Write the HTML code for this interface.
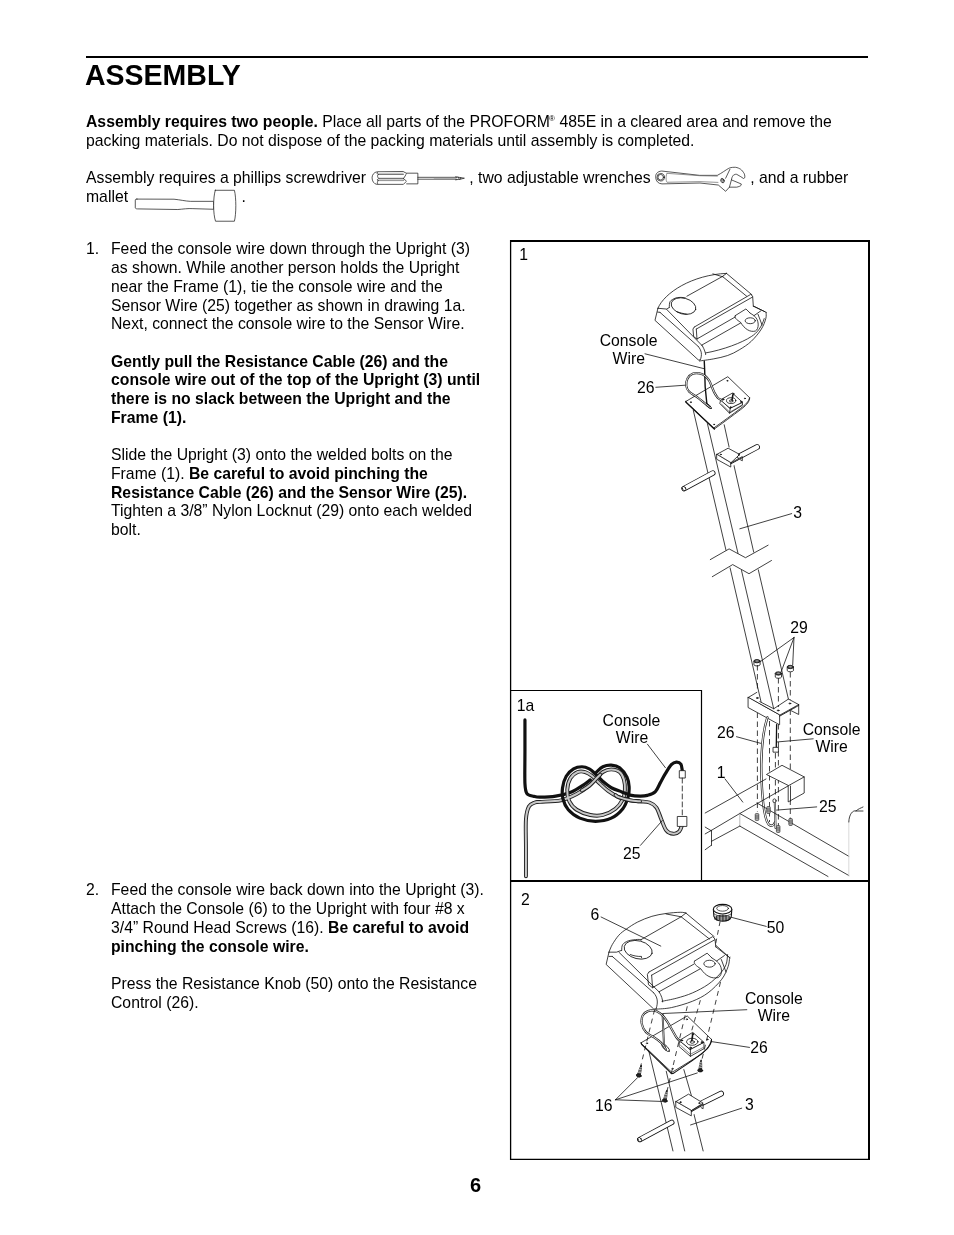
<!DOCTYPE html>
<html><head><meta charset="utf-8">
<style>
html,body{margin:0;padding:0;background:#fff;}
body{width:954px;height:1235px;position:relative;overflow:hidden;filter:grayscale(1);font-family:"Liberation Sans",sans-serif;color:#000;}
.t{position:absolute;font-size:15.75px;line-height:18.7px;white-space:nowrap;}
.b{font-weight:bold;}
#rule{position:absolute;left:86px;top:56px;width:782px;height:2px;background:#000;}
#title{position:absolute;left:85px;top:58px;font-size:28.5px;font-weight:bold;line-height:34px;white-space:nowrap;transform:scaleY(1.05);transform-origin:0 27px;}
sup.r{font-size:8px;vertical-align:top;position:relative;top:-3px;margin-left:-0.8px;}
svg{position:absolute;left:0;top:0;}
</style></head><body>
<div id="rule"></div>
<div id="title">ASSEMBLY</div>

<div class="t" style="left:86px;top:113.4px"><b>Assembly requires two people.</b> Place all parts of the PROFORM<sup class="r">®</sup> 485E in a cleared area and remove the<br>packing materials. Do not dispose of the packing materials until assembly is completed.</div>

<div class="t" style="left:86px;top:168.9px">Assembly requires a phillips screwdriver</div>
<div class="t" style="left:469.3px;top:168.9px">, two adjustable wrenches</div>
<div class="t" style="left:750.3px;top:168.9px">, and a rubber</div>
<div class="t" style="left:86px;top:187.6px">mallet</div>
<div class="t" style="left:241.5px;top:187.6px">.</div>

<div class="t" style="left:86px;top:240.4px">1.</div>
<div class="t" style="left:111px;top:240.4px">Feed the console wire down through the Upright (3)<br>as shown. While another person holds the Upright<br>near the Frame (1), tie the console wire and the<br>Sensor Wire (25) together as shown in drawing 1a.<br>Next, connect the console wire to the Sensor Wire.<br>&nbsp;<br><b>Gently pull the Resistance Cable (26) and the<br>console wire out of the top of the Upright (3) until<br>there is no slack between the Upright and the<br>Frame (1).</b><br>&nbsp;<br>Slide the Upright (3) onto the welded bolts on the<br>Frame (1). <b>Be careful to avoid pinching the<br>Resistance Cable (26) and the Sensor Wire (25).</b><br>Tighten a 3/8” Nylon Locknut (29) onto each welded<br>bolt.</div>

<div class="t" style="left:86px;top:881.4px">2.</div>
<div class="t" style="left:111px;top:881.4px">Feed the console wire back down into the Upright (3).<br>Attach the Console (6) to the Upright with four #8 x<br>3/4” Round Head Screws (16). <b>Be careful to avoid<br>pinching the console wire.</b><br>&nbsp;<br>Press the Resistance Knob (50) onto the Resistance<br>Control (26).</div>

<div class="t b" style="left:470px;top:1174px;font-size:20px;line-height:22px">6</div>

<svg width="954" height="1235" viewBox="0 0 954 1235">
<g fill="none" stroke="#000">
<path d="M510.6 240 V1160" stroke-width="1.3"/>
<path d="M869 240 V1160" stroke-width="2"/>
<path d="M510 241 H870" stroke-width="2"/>
<path d="M510 1159.4 H870" stroke-width="1.3"/>
<path d="M510 881 H870" stroke-width="2"/>
<path d="M510 690.5 H701.5 V881" stroke-width="1.2"/>
</g>
<g transform="translate(648,266) scale(0.134174)" fill="none" stroke="#111" stroke-width="5.962" stroke-linecap="round" stroke-linejoin="round"><path d="M74 315 C120 200 330 65 585 55" /><path d="M585 55 L775 215 M790 300 L880 345" /><path d="M880.0 345.0 C879.7 352.8 883.8 371.2 878.0 392.0 C872.2 412.8 863.0 441.8 845.0 470.0 C827.0 498.2 797.5 535.2 770.0 561.0 C742.5 586.8 709.3 607.3 680.0 625.0 C650.7 642.7 625.7 655.8 594.0 667.0 C562.3 678.2 525.2 685.2 490.0 692.0 C454.8 698.8 400.8 705.3 383.0 708.0" /><path d="M866 392 C848 455 812 500 770 526 C700 572 560 625 430 648" /><path d="M74 315 L52 405 L375 700 L385 700" /><path d="M74 315 L140 321 L159 309 M71 343 L90 346 M89.9 346.1 L375 600 M139.9 324.3 L405 595 M375 600 C400 630 405 660 390 700 M405 595 C420 620 430 650 430 660" /><path d="M555 78 L290 225 M585 55 L555 78 L735 225" /><ellipse cx="265" cy="299" rx="94" ry="59" transform="rotate(15 265 299)" /><path d="M158.7 308.7 C159.7 301.4 157.6 276.4 164.9 264.9 C172.2 253.4 189.9 245.1 202.4 239.9 C214.9 234.8 227.5 234.5 240.0 234.0 C252.5 233.5 271.2 236.3 277.4 236.8" /><path d="M214.9 339.9 C240 350 265 356 289.9 358.6" /><path d="M483.6 58.7 L558.6 80.5" /><path d="M345 455 L765 212 L780 225 L785 300 M360 470 L778 232 M345 455 L335 470 L340 525 L365 545 M360 470 L365 545 L372 540 M372 540 L650 380 M400 590 L690 425" /><path d="M650 370 L730 320 L760 350 M650 370 C640 385 660 400 690 420 C720 470 760 495 800 485 C830 470 830 400 790 370 L760 350" /><ellipse cx="762" cy="408" rx="38" ry="22" /><path d="M785 300 L870 340 M790 370 L840 335 M820 360 L850 440" /></g>
<g transform="translate(660,355) scale(0.125786)" fill="none" stroke="#111" stroke-width="6.360" stroke-linecap="round" stroke-linejoin="round"><path d="M205.7 369.2 L539 172.6 L712.3 339.3 C705 370 680 395 640 425 C580 470 500 530 429 579.3 Z" fill="#fff"/><path d="M712.3 339.3 L712.3 350 C705 380 680 405 640 435 C580 480 500 540 432 588 L429 579.3" /><path d="M205.7 369.2 L207 376 L432 588" stroke-width="11.130"/><ellipse cx="245" cy="375" rx="4" ry="3" fill="#333"/><ellipse cx="535" cy="205" rx="4" ry="3" fill="#333"/><ellipse cx="675" cy="345" rx="4" ry="3" fill="#333"/><ellipse cx="430" cy="552" rx="4" ry="3" fill="#333"/><path d="M482.3 355.9 L475.7 385.9 L552.3 462.6 L655.7 399.3 L655.7 375.9 L559 422.6 Z" fill="#fff"/><path d="M482.3 355.9 L575.7 302.6 L655.7 375.9 L559 422.6 Z M559 422.6 L552.3 462.6" fill="#fff"/><path d="M490 392 L555 455 M560 452 L650 398" stroke-width="3.975"/><ellipse cx="565.7" cy="362.6" rx="37" ry="23" /><ellipse cx="566" cy="365" rx="14" ry="9" /><path d="M579 319 L572.3 359.2" stroke-width="12.720"/><ellipse cx="502.3" cy="352.6" rx="6" ry="5" fill="#333"/><ellipse cx="582.3" cy="309.2" rx="6" ry="5" fill="#333"/><ellipse cx="645.7" cy="372.6" rx="6" ry="5" fill="#333"/><ellipse cx="562.3" cy="416" rx="6" ry="5" fill="#333"/><ellipse cx="385.7" cy="405.9" rx="30" ry="10" transform="rotate(42 385.7 405.9)" fill="#fff"/><path d="M352 50 L355 119 L359 252.6 L372.3 385.9 L382.3 405.9" stroke-width="11.130"/><path d="M392.3 412.6 C386.8 408.2 375.7 399.2 359.0 385.9 C342.3 372.6 313.4 348.2 292.3 332.6 C271.2 317.1 246.2 307.1 232.3 292.6 C218.4 278.2 211.2 263.7 209.0 245.9 C206.8 228.1 210.7 202.0 219.0 185.9 C227.3 169.8 243.4 155.9 259.0 149.2 C274.6 142.6 295.6 143.1 312.3 145.9 C329.0 148.7 345.7 155.9 359.0 165.9 C372.3 175.9 383.4 191.5 392.3 205.9 C401.2 220.3 405.6 237.0 412.3 252.6 C419.0 268.2 424.5 284.8 432.3 299.2 C440.1 313.7 449.6 329.2 459.0 339.2 C468.4 349.2 484.0 355.9 489.0 359.2" stroke="#222" stroke-width="17.490"/><path d="M392.3 412.6 C386.8 408.2 375.7 399.2 359.0 385.9 C342.3 372.6 313.4 348.2 292.3 332.6 C271.2 317.1 246.2 307.1 232.3 292.6 C218.4 278.2 211.2 263.7 209.0 245.9 C206.8 228.1 210.7 202.0 219.0 185.9 C227.3 169.8 243.4 155.9 259.0 149.2 C274.6 142.6 295.6 143.1 312.3 145.9 C329.0 148.7 345.7 155.9 359.0 165.9 C372.3 175.9 383.4 191.5 392.3 205.9 C401.2 220.3 405.6 237.0 412.3 252.6 C419.0 268.2 424.5 284.8 432.3 299.2 C440.1 313.7 449.6 329.2 459.0 339.2 C468.4 349.2 484.0 355.9 489.0 359.2" stroke="#fff" stroke-width="7.155"/></g>
<g fill="none" stroke="#111" stroke-width="0.8" stroke-linecap="round"><path d="M693.3 410.3 L726 550.2" /><path d="M707.4 423.6 L738 553.3" /><path d="M724.2 424.8 L729.1 447 M733.5 463.4 L753.7 552.1" /><path d="M710.3 559.6 L729.1 548.9 L745.5 557.7 L768.1 545.2" /><path d="M712.3 576.7 L732.7 564.6 L749 573.7 L771.5 560.5" /><path d="M730.1 567.9 L761 701.6" /><path d="M741.5 570.5 L773.7 708.8" /><path d="M758.3 569.8 L788.4 699.1" /><path d="M645 353.8 L704.5 368.8" /><path d="M655.8 387.3 L685.2 385.2" /><path d="M739.8 528.8 L791.7 513.6" /><path d="M794 637.5 L760.9 661.2 M794 637.5 L781 672.2 M794 637.5 L792.7 665.1" /><path d="M736.5 736.7 L760.6 743.3" /><path d="M813.2 738.8 L776.6 742" /><path d="M725 778.9 L742.8 802.1" /><path d="M816.7 806.9 L776.6 810.1" /><path d="M601.1 917 L660.8 946.1" /><path d="M730.1 917 L766.2 926.4" /><path d="M746.8 1009.7 L663 1013.5" /><path d="M749.5 1047.4 L703 1040.3" /></g>
<g transform="translate(670,420) scale(0.125786)" fill="none" stroke="#111" stroke-width="6.360" stroke-linecap="round" stroke-linejoin="round"><path d="M555 287 L692 215" stroke="#111" stroke-width="46.110" stroke-linecap="round"/><path d="M555 287 L692 215" stroke="#fff" stroke-width="33.390" stroke-linecap="round"/><path d="M483 341 L575 291 L575 324 L483 374 Z" fill="#fff" stroke="none"/><path d="M371 274 L462 224 L554 274 L483 341 Z" fill="#fff"/><path d="M371 274 L371 312 L483 374 L483 341 Z" fill="#fff"/><path d="M483 341 L575 291 L575 324 L560 316 M483 349 L575 299" /><path d="M490 346 L496 340 M505 338 L511 332 M520 330 L526 324 M535 322 L541 316 M550 314 L556 308 M563 307 L569 301" stroke-width="4.770"/><ellipse cx="404" cy="274" rx="4" ry="3" fill="#333"/><ellipse cx="546" cy="278" rx="4" ry="3" fill="#333"/><path d="M112 545 L340 422" stroke="#111" stroke-width="43.725" stroke-linecap="round"/><path d="M112 545 L340 422" stroke="#fff" stroke-width="31.005" stroke-linecap="round"/><ellipse cx="112" cy="545" rx="12.24" ry="18.68" transform="rotate(-28.3 112 545)" fill="#fff" stroke="#111" stroke-width="6.360"/></g>
<g transform="translate(700,540) scale(0.129589)" fill="none" stroke="#111" stroke-width="6.173" stroke-linecap="round" stroke-linejoin="round"><path d="M416 935 L416 963 C420 975 460 975 464 963 L464 935" fill="#fff"/><ellipse cx="440" cy="935" rx="24" ry="13" fill="#444"/><ellipse cx="440" cy="934" rx="13" ry="6" fill="#999" stroke="none"/><path d="M581 1030 L581 1058 C585 1070 625 1070 629 1058 L629 1030" fill="#fff"/><ellipse cx="605" cy="1030" rx="24" ry="13" fill="#444"/><ellipse cx="605" cy="1029" rx="13" ry="6" fill="#999" stroke="none"/><path d="M673 980 L673 1008 C677 1020 717 1020 721 1008 L721 980" fill="#fff"/><ellipse cx="697" cy="980" rx="24" ry="13" fill="#444"/><ellipse cx="697" cy="979" rx="13" ry="6" fill="#999" stroke="none"/></g>
<g fill="none" stroke="#111" stroke-width="0.8" stroke-dasharray="5.5 3.5"><path d="M757.4 665 V692 M757.4 712.5 V812" /><path d="M769.5 721 V822" /><path d="M778.4 678 V707 M778.4 724 V828" /><path d="M790.3 672 V699.5 M790.3 709.5 V821" /><path d="M775.4 753 V797" /></g>
<g transform="translate(700,680) scale(0.178196)" fill="none" stroke="#111" stroke-width="4.489" stroke-linecap="round" stroke-linejoin="round"><path d="M269.8 98.8 L319.2 69.2 M335.7 121.5 L413.9 161.4 L496.2 107 L553.9 137.9 M269.8 98.8 L446.8 197.6 L553.9 137.9" /><path d="M269.8 98.8 L269.8 154.4 L444 250 L446.8 251.1 L446.8 197.6 Z" fill="#fff"/><path d="M553.9 137.9 L553.9 193.5 L512.7 172.9 M446.8 203 L553.9 143" /><path d="M455 198 L460 193 M470 190 L475 185 M485 182 L490 177 M500 173 L505 168 M515 165 L520 160 M530 156 L535 151" stroke-width="3.367"/><ellipse cx="321.3" cy="100.9" rx="5" ry="3" fill="#777"/><ellipse cx="438.6" cy="170.9" rx="5" ry="3" fill="#777"/><ellipse cx="504.5" cy="131.7" rx="5" ry="3" fill="#777"/><path d="M378 210 C350 300 340 400 345 550 C350 680 360 780 385 810 C400 825 415 815 420 800" stroke="#222" stroke-width="13.468"/><path d="M378 210 C350 300 340 400 345 550 C350 680 360 780 385 810 C400 825 415 815 420 800" stroke="#fff" stroke-width="5.612"/><path d="M430 250 L428 378" stroke-width="7.295"/><path d="M412 378 L440 378 L440 405 L412 405 Z" fill="#fff"/><ellipse cx="418" cy="678" rx="9" ry="11" fill="#fff"/><path d="M420 690 L424 830" stroke="#222" stroke-width="11.224"/><path d="M420 690 L424 830" stroke="#fff" stroke-width="4.489"/></g>
<g fill="none" stroke="#111" stroke-width="0.8" stroke-linecap="round"><path d="M705.2 813 L766 779" /><path d="M711 830.6 L739.8 813.5 L788 786" /><path d="M711.5 841.3 L739.8 826.1" /><path d="M739.8 813.5 V826.1" stroke="#aaa"/><path d="M711.5 830.6 V845.5 M705.2 827.1 L711 830.6 M705.2 833.9 L711 830.6 M705.2 849.7 L711 845.5" /><path d="M739.8 813.5 L848.8 875.5" /><path d="M739.8 826.1 L828 876.5" /><path d="M757 803 L848.8 856.3" /><path d="M848.8 876 V822" stroke="#d0d0d0"/><path d="M848.8 822 C849 814 853 810 856 811 C858 809 861 808 863 807 M856 811 L863 811" /><path d="M766.8 774.3 L782 765.3 L804.2 776.9 L804.2 793 L788.2 801.9 L788.2 785.8 Z M788.2 785.8 L804.2 776.9 M790.5 786 V801" fill="#fff"/></g>
<rect x="755.2" y="813.5" width="3.6" height="7" rx="1" fill="#aaa" stroke="#222" stroke-width="0.6"/><path d="M755.2 816 H758.8 M755.2 818 H758.8" stroke="#222" stroke-width="0.5"/><rect x="766.7" y="806.5" width="3.6" height="7" rx="1" fill="#aaa" stroke="#222" stroke-width="0.6"/><path d="M766.7 809 H770.3 M766.7 811 H770.3" stroke="#222" stroke-width="0.5"/><rect x="776.4000000000001" y="825.5" width="3.6" height="7" rx="1" fill="#aaa" stroke="#222" stroke-width="0.6"/><path d="M776.4000000000001 828 H780.0 M776.4000000000001 830 H780.0" stroke="#222" stroke-width="0.5"/><rect x="788.8000000000001" y="818.5" width="3.6" height="7" rx="1" fill="#aaa" stroke="#222" stroke-width="0.6"/><path d="M788.8000000000001 821 H792.4 M788.8000000000001 823 H792.4" stroke="#222" stroke-width="0.5"/><g transform="translate(512,692) scale(0.199164)" fill="none" stroke="#111" stroke-width="4.017" stroke-linecap="round" stroke-linejoin="round"><path d="M65.0 140.0 C65.0 166.7 65.0 246.7 65.0 300.0 C65.0 353.3 63.3 425.0 65.0 460.0 C66.7 495.0 67.5 499.3 75.0 510.0 C82.5 520.7 99.1 521.0 110.0 524.0 C120.9 527.0 122.3 528.2 140.6 528.0 C158.8 527.8 193.2 527.2 219.5 522.8 C245.8 518.4 274.8 511.3 298.5 501.7 C322.2 492.1 345.8 475.0 361.6 464.9 C377.4 454.8 387.9 445.1 393.2 441.2" stroke-width="16.067" stroke="#111"/><path d="M70.0 925.0 C70.0 900.8 70.0 827.5 70.0 780.0 C70.0 732.5 67.5 674.2 70.0 640.0 C72.5 605.8 77.5 589.2 85.0 575.0 C92.5 560.8 105.7 558.9 115.0 555.0 C124.3 551.1 118.8 553.6 140.6 551.7 C162.4 549.8 215.2 550.4 245.9 543.8 C276.6 537.2 301.1 524.5 324.8 512.2 C348.5 499.9 371.3 483.2 388.0 470.1 C404.7 457.0 413.4 444.7 424.8 433.3 C436.2 421.9 444.1 409.1 456.4 401.7 C468.7 394.2 484.5 388.6 498.5 388.6 C512.5 388.6 530.1 393.4 540.6 401.7 C551.1 410.0 557.2 423.7 561.6 438.6 C566.0 453.5 567.8 474.5 566.9 491.2 C566.0 507.9 564.3 522.8 556.4 538.6 C548.5 554.4 536.2 572.8 519.5 585.9 C502.8 599.0 477.4 612.2 456.4 617.5 C435.3 622.8 415.1 621.9 393.2 617.5 C371.3 613.1 342.3 602.6 324.8 591.2 C307.3 579.8 295.9 565.8 288.0 549.1 C280.1 532.4 276.5 510.5 277.4 491.2 C278.3 471.9 284.4 448.2 293.2 433.3 C302.0 418.4 317.8 407.0 330.1 401.7 C342.4 396.4 354.6 398.2 366.9 401.7 C379.2 405.2 391.5 413.1 403.8 422.8 C416.1 432.5 427.5 447.3 440.6 459.6 C453.8 471.9 466.9 485.1 482.7 496.5 C498.5 507.9 516.9 520.1 535.3 528.0 C553.7 535.9 575.3 540.3 593.2 543.8 C611.1 547.3 626.6 547.2 642.7 549.1 C658.8 551.0 676.3 549.9 690.0 555.0 C703.7 560.1 715.0 565.8 725.0 580.0 C735.0 594.2 741.7 620.8 750.0 640.0 C758.3 659.2 765.0 683.0 775.0 695.0 C785.0 707.0 799.2 711.2 810.0 712.0 C820.8 712.8 832.5 707.8 840.0 700.0 C847.5 692.2 852.5 670.8 855.0 665.0" stroke="#222" stroke-width="19.582"/><path d="M70.0 925.0 C70.0 900.8 70.0 827.5 70.0 780.0 C70.0 732.5 67.5 674.2 70.0 640.0 C72.5 605.8 77.5 589.2 85.0 575.0 C92.5 560.8 105.7 558.9 115.0 555.0 C124.3 551.1 118.8 553.6 140.6 551.7 C162.4 549.8 215.2 550.4 245.9 543.8 C276.6 537.2 301.1 524.5 324.8 512.2 C348.5 499.9 371.3 483.2 388.0 470.1 C404.7 457.0 413.4 444.7 424.8 433.3 C436.2 421.9 444.1 409.1 456.4 401.7 C468.7 394.2 484.5 388.6 498.5 388.6 C512.5 388.6 530.1 393.4 540.6 401.7 C551.1 410.0 557.2 423.7 561.6 438.6 C566.0 453.5 567.8 474.5 566.9 491.2 C566.0 507.9 564.3 522.8 556.4 538.6 C548.5 554.4 536.2 572.8 519.5 585.9 C502.8 599.0 477.4 612.2 456.4 617.5 C435.3 622.8 415.1 621.9 393.2 617.5 C371.3 613.1 342.3 602.6 324.8 591.2 C307.3 579.8 295.9 565.8 288.0 549.1 C280.1 532.4 276.5 510.5 277.4 491.2 C278.3 471.9 284.4 448.2 293.2 433.3 C302.0 418.4 317.8 407.0 330.1 401.7 C342.4 396.4 354.6 398.2 366.9 401.7 C379.2 405.2 391.5 413.1 403.8 422.8 C416.1 432.5 427.5 447.3 440.6 459.6 C453.8 471.9 466.9 485.1 482.7 496.5 C498.5 507.9 516.9 520.1 535.3 528.0 C553.7 535.9 575.3 540.3 593.2 543.8 C611.1 547.3 626.6 547.2 642.7 549.1 C658.8 551.0 676.3 549.9 690.0 555.0 C703.7 560.1 715.0 565.8 725.0 580.0 C735.0 594.2 741.7 620.8 750.0 640.0 C758.3 659.2 765.0 683.0 775.0 695.0 C785.0 707.0 799.2 711.2 810.0 712.0 C820.8 712.8 832.5 707.8 840.0 700.0 C847.5 692.2 852.5 670.8 855.0 665.0" stroke="#c8c8c8" stroke-width="10.042"/><path d="M424.8 401.7 C430.1 397.3 444.1 381.1 456.4 375.4 C468.7 369.7 484.5 366.6 498.5 367.5 C512.5 368.4 527.5 370.6 540.6 380.7 C553.8 390.8 569.5 412.2 577.4 428.0 C585.3 443.8 587.1 458.7 588.0 475.4 C588.9 492.1 588.0 509.6 582.7 528.0 C577.4 546.4 570.4 568.4 556.4 585.9 C542.4 603.4 521.3 622.8 498.5 633.3 C475.7 643.8 445.8 649.1 419.5 649.1 C393.2 649.1 363.4 642.9 340.6 633.3 C317.8 623.6 296.7 607.0 282.7 591.2 C268.7 575.4 261.2 557.0 256.4 538.6 C251.6 520.2 251.2 500.0 253.8 480.7 C256.4 461.4 263.0 438.6 272.2 422.8 C281.4 407.0 295.9 393.8 309.0 385.9 C322.1 378.0 337.9 375.4 351.1 375.4 C364.3 375.4 376.6 379.8 388.0 385.9 C399.4 392.0 408.1 401.7 419.5 412.2 C430.9 422.7 443.2 437.7 456.4 449.1 C469.6 460.5 482.7 471.9 498.5 480.7 C514.3 489.5 535.3 495.6 551.1 501.7 C566.9 507.8 577.9 514.0 593.2 517.5 C608.5 521.0 628.2 522.5 642.7 522.8 C657.2 523.0 667.1 522.8 680.0 519.0 C692.9 515.2 709.2 510.7 720.0 500.0 C730.8 489.3 736.7 470.0 745.0 455.0 C753.3 440.0 760.8 425.0 770.0 410.0 C779.2 395.0 790.8 374.7 800.0 365.0 C809.2 355.3 817.0 352.5 825.0 352.0 C833.0 351.5 843.0 354.8 848.0 362.0 C853.0 369.2 853.8 389.5 855.0 395.0" stroke-width="16.067" stroke="#111"/><path d="M351.1 493.8 C357.2 489.9 375.7 480.2 388.0 470.1 C400.3 460.0 415.6 442.5 424.8 433.3 C434.0 424.1 440.1 418.0 443.2 414.9" stroke="#222" stroke-width="19.582"/><path d="M351.1 493.8 C357.2 489.9 375.7 480.2 388.0 470.1 C400.3 460.0 415.6 442.5 424.8 433.3 C434.0 424.1 440.1 418.0 443.2 414.9" stroke="#c8c8c8" stroke-width="10.042"/><path d="M519.5 517.5 C522.1 519.2 523.0 523.6 535.3 528.0 C547.6 532.4 575.3 540.3 593.2 543.8 C611.1 547.3 634.5 548.2 642.7 549.1" stroke="#222" stroke-width="19.582"/><path d="M519.5 517.5 C522.1 519.2 523.0 523.6 535.3 528.0 C547.6 532.4 575.3 540.3 593.2 543.8 C611.1 547.3 634.5 548.2 642.7 549.1" stroke="#c8c8c8" stroke-width="10.042"/><path d="M842 395 H870 V432 H842 Z" fill="#fff"/><path d="M855 432 V625" stroke-dasharray="25 15"/><path d="M832 625 H878 V675 H832 Z" fill="#fff"/><path d="M680 262 L770 380" /><path d="M645 770 L755 645" /></g>
<g transform="translate(590,895) scale(0.157233)" fill="none" stroke="#111" stroke-width="5.088" stroke-linecap="round" stroke-linejoin="round"><path d="M120.6 363.6 C124.1 355.6 131.1 333.6 141.6 315.6 C152.1 297.6 168.6 272.1 183.6 255.6 C198.6 239.1 211.6 230.6 231.6 216.6 C251.6 202.6 276.6 185.1 303.6 171.6 C330.6 158.1 363.6 144.6 393.6 135.6 C423.6 126.6 453.6 121.9 483.6 117.6 C513.6 113.3 552.5 110.5 573.6 110.0 C594.7 109.5 603.9 113.8 610.0 114.6" /><path d="M610 115 L790 265 M800 320 L890 400" /><path d="M890.0 395.0 C889.7 396.2 890.0 391.8 888.0 402.0 C886.0 412.2 886.3 433.7 878.0 456.0 C869.7 478.3 859.2 508.3 838.0 536.0 C816.8 563.7 782.2 598.7 751.0 622.0 C719.8 645.3 689.8 660.3 651.0 676.0 C612.2 691.7 556.5 707.7 518.0 716.0 C479.5 724.3 436.3 724.3 420.0 726.0" /><path d="M875.0 379.0 C873.3 389.7 873.3 422.3 865.0 443.0 C856.7 463.7 844.0 482.0 825.0 503.0 C806.0 524.0 780.0 549.0 751.0 569.0 C722.0 589.0 684.2 608.5 651.0 623.0 C617.8 637.5 584.2 647.2 552.0 656.0 C519.8 664.8 473.7 672.7 458.0 676.0" /><path d="M120.6 363.6 L102.6 441.6 L405 725 L420 725" /><path d="M120.6 363.6 L168.6 363.6 L201.6 351.6 M120.6 390.6 L141.6 390.6 M141.6 390.6 L405 622 M183.6 363.6 L440 617 M405 622 C430 650 435 680 420 725 M440 617 C455 640 462 665 462 680" /><path d="M579.6 138.6 L321.6 285.6 M610 114.6 L579.6 138.6 L760 280 M483.6 120.6 L579.6 138.6" /><ellipse cx="306.6" cy="348.6" rx="91" ry="57" transform="rotate(14 306.6 348.6)" /><path d="M201.6 351.6 C202.6 345.6 200.6 325.6 207.6 315.6 C214.6 305.6 227.6 297.1 243.6 291.6 C259.6 286.1 289.6 283.6 303.6 282.6 C317.6 281.6 323.6 285.1 327.6 285.6" /><path d="M255.6 378.6 C280 388 305 392 327.6 390.6 L328 400" /><path d="M375 490 L780 265 L795 280 L800 330 M392 510 L793 285 M375 490 L365 505 L372 570 L398 590 M392 510 L398 590 L405 585 M405 585 L660 440 M440 615 L700 470" /><path d="M665 420 L745 370 L775 400 M665 420 C655 435 675 450 705 470 C735 515 775 535 815 525 C845 510 845 450 805 420 L775 400" /><ellipse cx="760" cy="437" rx="36" ry="22" /><path d="M800 330 L880 392 M805 420 L855 385 M835 410 L865 490" /></g>
<g transform="translate(600,1000) scale(0.167715)" fill="none" stroke="#111" stroke-width="4.770" stroke-linecap="round" stroke-linejoin="round"><path d="M290 300 L435 900" /><path d="M395 425 L505 900" /><path d="M500 415 L545 570 M560 680 L615 900" /><path d="M598 620 L722 558" stroke="#111" stroke-width="34.583" stroke-linecap="round"/><path d="M598 620 L722 558" stroke="#fff" stroke-width="25.042" stroke-linecap="round"/><path d="M237 832 L428 730" stroke="#111" stroke-width="32.198" stroke-linecap="round"/><path d="M237 832 L428 730" stroke="#fff" stroke-width="22.658" stroke-linecap="round"/><ellipse cx="237" cy="832" rx="9.02" ry="13.71" transform="rotate(-28.1 237 832)" fill="#fff" stroke="#111" stroke-width="4.770"/><path d="M544.5 659.8 L614.8 620 L614.8 648 L544.5 690.8 Z" fill="#fff" stroke="none"/><path d="M451.7 606.4 L527.7 561.4 L614.8 614.8 L544.5 659.8 Z" fill="#fff"/><path d="M451.7 606.4 L451.7 640.1 L544.5 690.8 L544.5 659.8 Z" fill="#fff"/><path d="M544.5 659.8 L614.8 620 L614.8 648 L603 642 M544.5 666 L614.8 626" /><path d="M551 663 L556 658 M563 656 L568 651 M575 649 L580 644 M587 642 L592 637 M599 635 L604 630" stroke-width="3.578"/><ellipse cx="479.8" cy="609.2" rx="4" ry="3" fill="#333"/><ellipse cx="592.3" cy="614.8" rx="4" ry="3" fill="#333"/><path d="M245 255 L520 95 L665 235 C660 265 640 290 610 320 L440 425 L430 430 Z" fill="#fff"/><path d="M245 255 L248 265 L428 440 L440 436 C520 380 590 340 640 290 C660 265 665 250 665 235" stroke-width="6.559"/><ellipse cx="280" cy="258" rx="4" ry="3" /><ellipse cx="518" cy="115" rx="4" ry="3" /><ellipse cx="640" cy="235" rx="4" ry="3" /><ellipse cx="432" cy="410" rx="4" ry="3" /><path d="M474 241 L471 277 L539 336 L620 290 L620 252 L539 294 Z" fill="#fff"/><path d="M474 241 L553 193 L620 252 L539 294 Z M539 294 L539 336" fill="#fff"/><path d="M480 270 L537 322 M542 322 L615 283" stroke-width="2.981"/><ellipse cx="550" cy="249" rx="34" ry="21" /><ellipse cx="550" cy="250" rx="13" ry="8" /><path d="M553 204 L547.3 243.6" stroke-width="9.540"/><ellipse cx="488" cy="241" rx="5" ry="4" fill="#333"/><ellipse cx="553" cy="203" rx="5" ry="4" fill="#333"/><ellipse cx="608" cy="252" rx="5" ry="4" fill="#333"/><ellipse cx="540" cy="285" rx="5" ry="4" fill="#333"/><ellipse cx="392" cy="285" rx="30" ry="11" transform="rotate(45 392 285)" fill="#fff"/><path d="M373 86 L381.4 266 L388 282" stroke="#222" stroke-width="11.329"/><path d="M373 86 L381.4 266 L388 282" stroke="#ddd" stroke-width="4.174"/><path d="M392.6 294.2 C387.9 287.6 376.7 267.0 364.5 254.8 C352.3 242.6 334.5 231.3 319.5 221.0 C304.5 210.7 286.2 206.0 274.5 192.9 C262.8 179.8 252.5 159.2 249.2 142.3 C245.9 125.4 248.7 104.4 254.8 91.7 C260.9 79.0 274.1 71.1 285.8 66.4 C297.5 61.7 312.9 61.3 325.1 63.6 C337.3 65.9 348.6 72.9 358.9 80.4 C369.2 87.9 378.6 98.3 387.0 108.6 C395.4 118.9 402.0 130.1 409.5 142.3 C417.0 154.5 424.5 168.6 432.0 181.7 C439.5 194.8 447.0 210.2 454.5 221.0 C462.0 231.8 473.2 242.2 477.0 246.4" stroke="#222" stroke-width="13.118"/><path d="M392.6 294.2 C387.9 287.6 376.7 267.0 364.5 254.8 C352.3 242.6 334.5 231.3 319.5 221.0 C304.5 210.7 286.2 206.0 274.5 192.9 C262.8 179.8 252.5 159.2 249.2 142.3 C245.9 125.4 248.7 104.4 254.8 91.7 C260.9 79.0 274.1 71.1 285.8 66.4 C297.5 61.7 312.9 61.3 325.1 63.6 C337.3 65.9 348.6 72.9 358.9 80.4 C369.2 87.9 378.6 98.3 387.0 108.6 C395.4 118.9 402.0 130.1 409.5 142.3 C417.0 154.5 424.5 168.6 432.0 181.7 C439.5 194.8 447.0 210.2 454.5 221.0 C462.0 231.8 473.2 242.2 477.0 246.4" stroke="#fff" stroke-width="5.366"/><path d="M325 60 L235 425 M520 40 L388 592 M718 -105 L597 400" stroke-dasharray="25 30"/><path d="M92 595 L225 462 M92 595 L580 435 M92 595 L372 605" /><path d="M540 745 L845 645" /><g transform="rotate(14 230 455)"><path d="M228.5 389 C225 400 223 425 222 445 L238 445 C237 425 235 400 231.5 389 Z" fill="#333"/><path d="M224 405 L234 401 M223 415 L235 411 M223 425 L236 421 M222 435 L237 431" stroke="#ccc"/><ellipse cx="230" cy="450" rx="15" ry="9" fill="#222"/></g><g transform="rotate(5 597 425)"><path d="M595.5 359 C592 370 590 395 589 415 L605 415 C604 395 602 370 598.5 359 Z" fill="#333"/><path d="M591 375 L601 371 M590 385 L602 381 M590 395 L603 391 M589 405 L604 401" stroke="#ccc"/><ellipse cx="597" cy="420" rx="15" ry="9" fill="#222"/></g><g transform="rotate(12 385 605)"><path d="M383.5 539 C380 550 378 575 377 595 L393 595 C392 575 390 550 386.5 539 Z" fill="#333"/><path d="M379 555 L389 551 M378 565 L390 561 M378 575 L391 571 M377 585 L392 581" stroke="#ccc"/><ellipse cx="385" cy="600" rx="15" ry="9" fill="#222"/></g></g>
<g transform="translate(700,895) scale(0.133658)" fill="none" stroke="#111" stroke-width="5.985" stroke-linecap="round" stroke-linejoin="round"><path d="M100 108 L104 160 C115 190 150 196 168 196 C195 196 228 188 234 160 L238 108" fill="#fff" stroke-width="8.230"/><ellipse cx="169" cy="106" rx="69" ry="36" fill="#fff" stroke-width="8.230"/><ellipse cx="169" cy="100" rx="44" ry="21" stroke-width="5.237"/><path d="M112 163 L112 182 M123 158 L123 186 M134 155 L134 188 M145 152 L145 190 M156 151 L156 191 M167 150 L167 192 M178 150 L178 192 M189 152 L189 191 M200 154 L200 189 M211 157 L211 187 M222 161 L222 184" stroke-width="6.734"/><path d="M104 140 C130 165 210 165 234 140" stroke-width="5.237"/><path d="M150 200 L112 390 M2 790 L-62 1015" stroke-dasharray="30 36"/></g>
<g transform="translate(360,165) scale(0.125786)" fill="none" stroke="#111" stroke-width="5.565" stroke-linecap="round" stroke-linejoin="round"><path d="M135 54 C110 56 96 80 96 102 C96 126 110 152 135 154 L345 154 L371 128 L345 110 L371 67 L345 53 Z" fill="#fff"/><path d="M141 57 L345 57 L345 72 L146 72 Z" fill="#e4e4e4" stroke="none"/><path d="M146 74 L345 74 M148 106 L345 106 M146 122 L345 122" /><path d="M146 117 L345 117 L345 128 L146 128 Z" fill="#999" stroke="none"/><path d="M141 57 C133 64 133 70 146 74 C136 82 138 98 148 106 M141 113 C133 118 133 122 146 124 C136 132 136 144 141 150" /><path d="M371 65 L460 65 L460 150 L371 150" fill="#fff"/><path d="M460 98 L770 98 M460 113 L770 113" /><path d="M590 105 L760 105" stroke="#888"/><path d="M760 94 L800 100 L830 105 L800 112 L760 118 M780 96 L790 114 M800 100 L800 112" /></g>
<g transform="translate(645,160) scale(0.125786)" fill="none" stroke="#111" stroke-width="5.565" stroke-linecap="round" stroke-linejoin="round"><path d="M130 88 C95 90 82 115 85 140 C88 170 105 188 135 190 L437 183 L583 199 L641 249 L671 216 L729 216 C745 212 758 208 762 203 L766 191 L687 158 L691 141 C696 128 702 119 708 118 C715 114 722 112 729 114 L762 133 L783 147 L793 141 C795 125 792 110 783 99 C772 82 760 72 754 70 C740 62 722 56 708 58 C690 58 675 62 666 66 C640 80 610 105 575 122 L437 122 Z" fill="#fff"/><ellipse cx="125" cy="137" rx="30" ry="30" /><ellipse cx="125" cy="137" rx="22" ry="22" /><path d="M175 106 L437 125 L575 128 M175 106 C165 112 165 170 175 177 L437 172 L580 178" stroke="#666"/><ellipse cx="616" cy="164" rx="13" ry="17" transform="rotate(-20 616 164)" /><path d="M606 152 L628 172 M604 162 L624 180 M610 148 L630 164" stroke-width="3.975"/><path d="M675 74 L641 145 M687 158 L671 216" /></g>
<g transform="translate(130,185) scale(0.125786)" fill="none" stroke="#111" stroke-width="5.565" stroke-linecap="round" stroke-linejoin="round"><path d="M55 112 L350 113 C400 118 440 128 480 130 L665 130 L665 193 L500 188 C460 185 420 192 380 195 L60 190 C48 190 42 186 42 180 L42 120 C42 114 48 112 55 112 Z" fill="#fff"/><path d="M678 42 L830 42 C845 100 845 230 830 288 L680 288 C660 230 660 100 678 42 Z" fill="#fff"/></g>
</svg>

<div class="t" style="left:519.3px;top:246.4px">1</div>
<div class="t" style="left:568.6px;width:120px;text-align:center;top:332.4px">Console</div>
<div class="t" style="left:568.8px;width:120px;text-align:center;top:350.1px">Wire</div>
<div class="t" style="left:636.9px;top:379.2px">26</div>
<div class="t" style="left:793.3px;top:504.4px">3</div>
<div class="t" style="left:790.2px;top:619.4px">29</div>
<div class="t" style="left:717.0px;top:724.4px">26</div>
<div class="t" style="left:771.6px;width:120px;text-align:center;top:721.2px">Console</div>
<div class="t" style="left:771.6px;width:120px;text-align:center;top:737.9px">Wire</div>
<div class="t" style="left:716.7px;top:763.9px">1</div>
<div class="t" style="left:818.9px;top:798.0px">25</div>
<div class="t" style="left:516.7px;top:697.4px">1a</div>
<div class="t" style="left:571.5px;width:120px;text-align:center;top:712.3px">Console</div>
<div class="t" style="left:572.0px;width:120px;text-align:center;top:729.2px">Wire</div>
<div class="t" style="left:623.0px;top:844.7px">25</div>
<div class="t" style="left:521.1px;top:890.5px">2</div>
<div class="t" style="left:590.5px;top:905.5px">6</div>
<div class="t" style="left:766.7px;top:919.4px">50</div>
<div class="t" style="left:713.9px;width:120px;text-align:center;top:990.4px">Console</div>
<div class="t" style="left:713.9px;width:120px;text-align:center;top:1007.0px">Wire</div>
<div class="t" style="left:750.3px;top:1039.1px">26</div>
<div class="t" style="left:594.9px;top:1096.8px">16</div>
<div class="t" style="left:745.1px;top:1096.2px">3</div>
</body></html>
